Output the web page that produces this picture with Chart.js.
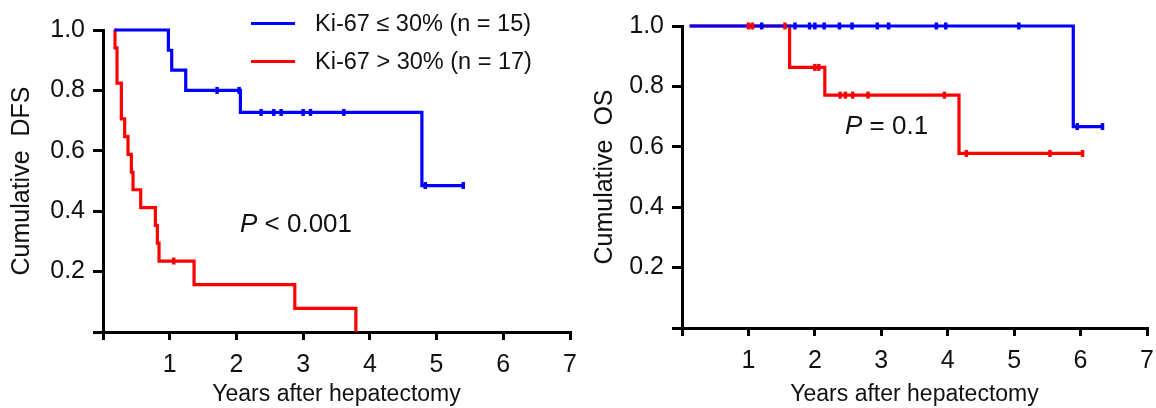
<!DOCTYPE html>
<html>
<head>
<meta charset="utf-8">
<script src="https://cdn.jsdelivr.net/npm/chart.js@4.4.1/dist/chart.umd.min.js"></script>
<style>
  html, body { margin: 0; padding: 0; background: #fff; }
  body { width: 1156px; height: 408px; position: relative; overflow: hidden;
         font-family: 'Liberation Sans', Arial, sans-serif; color: #111; }
  canvas { position: absolute; top: 0; }
  #dfs { left: 0; }
  #os { left: 578px; }
  .swatch { position: absolute; height: 3px; width: 44px; left: 251px; }
  .lbl { position: absolute; font-size: 23.5px; line-height: 28px; height: 28px; white-space: pre; }
  .pval { position: absolute; font-size: 26px; line-height: 30px; height: 30px; white-space: pre; }
</style>
</head>
<body>
<canvas id="dfs" width="578" height="408"></canvas>
<canvas id="os" width="578" height="408"></canvas>

<div class="swatch" style="top:22px;background:#0000ff"></div>
<div class="lbl" style="left:315px;top:9px">Ki-67 ≤ 30% (n = 15)</div>
<div class="swatch" style="top:60px;background:#ff0000"></div>
<div class="lbl" style="left:315px;top:47px">Ki-67 &gt; 30% (n = 17)</div>

<div class="pval" style="left:240px;top:208px"><i>P</i> &lt; 0.001</div>
<div class="pval" style="left:845px;top:110px"><i>P</i> = 0.1</div>

<script>
// x ticks (years) and y ticks (cumulative survival)
const xTicks = [0, 1, 2, 3, 4, 5, 6, 7];
const yTicks = [0, 0.2, 0.4, 0.6, 0.8, 1.0];

// DFS, Ki-67 <= 30% (blue)
const dfsLowTimes  = [0.17, 0.98, 1.03, 1.24, 2.06, 4.78, 5.40];
const dfsLowSurv   = [1.0, 0.933, 0.867, 0.800, 0.727, 0.485, 0.485];
const dfsLowCensor = [1.71, 2.04, 2.37, 2.56, 2.67, 3.00, 3.11, 3.61, 4.83, 5.40];

// DFS, Ki-67 > 30% (red)
const dfsHighTimes  = [0.17, 0.18, 0.21, 0.275, 0.325, 0.375, 0.425, 0.45, 0.565, 0.785, 0.815, 0.84, 1.365, 2.875, 3.79];
const dfsHighSurv   = [1.0, 0.941, 0.824, 0.706, 0.647, 0.588, 0.529, 0.471, 0.412, 0.353, 0.294, 0.235, 0.157, 0.078, 0];
const dfsHighCensor = [1.06];

// OS, Ki-67 <= 30% (blue)
const osLowTimes  = [0.115, 5.89, 6.33];
const osLowSurv   = [1.0, 0.667, 0.667];
const osLowCensor = [1.20, 1.70, 1.92, 2.00, 2.14, 2.37, 2.56, 2.94, 3.11, 3.83, 3.97, 5.07, 5.95, 6.33];

// OS, Ki-67 > 30% (red)
const osHighTimes  = [0.115, 1.62, 2.15, 4.17, 6.05];
const osHighSurv   = [1.0, 0.863, 0.771, 0.578, 0.578];
const osHighCensor = [1.00, 1.06, 1.55, 2.00, 2.06, 2.38, 2.46, 2.57, 2.80, 3.95, 4.28, 5.54, 6.03];

const BLUE = '#0000ff';
const RED = '#ff0000';

Chart.defaults.font.family = "'Liberation Sans', Arial, sans-serif";
Chart.defaults.color = '#111';

function steps(times, surv) {
  return times.map((t, i) => ({ x: t, y: surv[i] }));
}

// level of a step curve at time t (value of last step at or before t)
function levelAt(times, surv, t) {
  let v = surv[0];
  for (let i = 0; i < times.length; i++) if (times[i] <= t) v = surv[i];
  return v;
}

function censorPts(times, surv, cens) {
  return cens.map((t) => ({ x: t, y: levelAt(times, surv, t) }));
}

function curve(data, color, order) {
  return {
    type: 'line', data, order,
    borderColor: color, borderWidth: 3.2, stepped: 'before',
    pointRadius: 0, fill: false, clip: false,
  };
}

function marks(data, color, order) {
  return {
    type: 'scatter', data, order, showLine: false, clip: false,
    pointStyle: 'line', rotation: 90, pointRadius: 3.5,
    borderColor: color, backgroundColor: color, borderWidth: 3.5,
  };
}

function build(id, yTitle, low, high, opt) {
  return new Chart(document.getElementById(id), {
    type: 'line',
    data: {
      datasets: [
        curve(steps(high[0], high[1]), RED, 4),
        curve(steps(low[0], low[1]), BLUE, 3),
        marks(censorPts(high[0], high[1], high[2]), RED, 2),
        marks(censorPts(low[0], low[1], low[2]), BLUE, 1),
      ],
    },
    options: {
      responsive: false, animation: false,
      layout: { padding: { top: opt.top, right: opt.right, left: 0, bottom: 0 } },
      plugins: { legend: { display: false }, tooltip: { enabled: false } },
      scales: {
        x: {
          type: 'linear', min: xTicks[0], max: xTicks[xTicks.length - 1],
          afterBuildTicks: (s) => { s.ticks = xTicks.map((v) => ({ value: v })); },
          afterFit: (s) => { s.height = opt.xH; s.paddingLeft = 0; s.paddingRight = 0; },
          ticks: { font: { size: 25 }, padding: 10, callback: (v) => (v === 0 ? '' : v) },
          grid: { drawOnChartArea: false, tickLength: 8, color: '#000', lineWidth: 3 },
          border: { color: '#000', width: 3 },
          title: { display: true, text: 'Years after hepatectomy', font: { size: 23 }, padding: { top: 0, bottom: 0 } },
        },
        y: {
          type: 'linear', min: yTicks[0], max: yTicks[yTicks.length - 1],
          afterBuildTicks: (s) => { s.ticks = yTicks.map((v) => ({ value: v })); },
          afterFit: (s) => { s.width = opt.yW; },
          ticks: { font: { size: 25 }, padding: 8, callback: (v) => (v === 0 ? '' : v.toFixed(1)) },
          grid: { drawOnChartArea: false, tickLength: 10, color: '#000', lineWidth: 3 },
          border: { color: '#000', width: 3 },
          title: { display: true, text: yTitle, font: { size: 25 }, padding: { top: opt.titlePad, bottom: 0 } },
        },
      },
    },
  });
}

build('dfs', 'Cumulative  DFS',
  [dfsLowTimes, dfsLowSurv, dfsLowCensor],
  [dfsHighTimes, dfsHighSurv, dfsHighCensor],
  { top: 30, right: 8, xH: 76, yW: 103, titlePad: 7 });

build('os', 'Cumulative  OS',
  [osLowTimes, osLowSurv, osLowCensor],
  [osHighTimes, osHighSurv, osHighCensor],
  { top: 26, right: 9, xH: 80, yW: 104, titlePad: 12 });
</script>
</body>
</html>
